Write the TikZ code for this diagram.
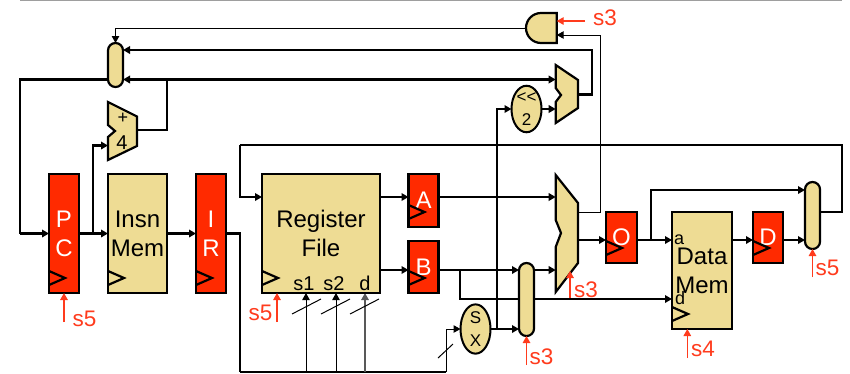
\documentclass[tikz,border=0pt]{standalone}
\usepackage{fontspec}
\setmainfont{Liberation Sans}
\usetikzlibrary{positioning,arrows.meta,shapes.geometric,backgrounds}
\definecolor{tan}{HTML}{EEDC94}
\definecolor{regred}{HTML}{FF2A00}
\definecolor{ctlred}{HTML}{FF3B1D}

\begin{document}
\begin{tikzpicture}[
  x=1pt,y=-1pt,
  >={Triangle[length=7pt,width=7.5pt]},
  reg/.style={rectangle,draw=black,fill=regred,line width=2.2pt,text=white,align=center,
              inner sep=0pt,outer sep=0pt,minimum width=30pt,font=\fontsize{24}{29}\selectfont},
  comb/.style={rectangle,draw=black,fill=tan,line width=2.2pt,align=center,
               inner sep=0pt,outer sep=0pt,font=\fontsize{24}{29}\selectfont},
  pill/.style={rectangle,rounded corners=7.4pt,draw=black,fill=tan,line width=2.2pt,
               inner sep=0pt,outer sep=0pt,minimum width=15pt},
  oval/.style={ellipse,draw=black,fill=tan,line width=2pt,align=center,inner sep=0pt,outer sep=0pt,
               minimum width=30pt,minimum height=46pt,font=\fontsize{17}{23}\selectfont},
  mux/.style={draw=black,fill=tan,line width=2.2pt,line join=miter},
  clk/.style={draw=black,line width=2.2pt},
  wire/.style={line width=2.2pt,black},
  thinwire/.style={line width=1pt,black},
  ctl/.style={->,line width=1.3pt,ctlred},
  ctllab/.style={text=ctlred,inner sep=0pt,font=\fontsize{22.5}{24}\selectfont},
  port/.style={inner sep=0pt,font=\fontsize{20}{22}\selectfont}
]
\useasboundingbox (0,0) rectangle (850,373);
\draw[black!38,line width=1.2pt] (20,0.5) -- (842,0.5);

% ---- registers and big blocks ----
\node[reg,minimum height=119pt] (pc) at (64,233.5) {P\\C};
\node[comb,minimum width=59pt,minimum height=119pt] (imem) at (137.5,233.5) {Insn\\Mem};
\node[reg,minimum height=119pt] (ir) at (211,233.5) {I\\R};
\node[comb,minimum width=118pt,minimum height=119pt] (rf) at (321,233.5) {Register\\File};
\node[reg,minimum height=53pt] (rega) at (423.5,200.5) {A};
\node[reg,minimum height=52pt] (regb) at (423.5,267) {B};
\node[reg,minimum width=31pt,minimum height=51pt] (rego) at (621.5,237.5) {O};
\node[comb,minimum width=60pt,minimum height=117pt] (dmem) at (702,270.5) {Data\\Mem};
\node[reg,minimum height=51pt] (regd) at (768,237.5) {D};

% ---- pills and ovals ----
\node[pill,minimum height=44pt] (pcmux) at (115.5,65) {};
\node[pill,minimum height=73pt] (bmux) at (526.5,299.5) {};
\node[pill,minimum height=67pt] (wbmux) at (812.5,215.5) {};
\node[oval] (sx) at (475.5,329) {S\\X};
\node[oval] (sltwo) at (526.5,109) {{<}{<}\\2};

% ---- adder and muxes ----
\draw[mux] (108,102) -- (137,116.5) -- (137,146) -- (108,160) -- (108,137) -- (115,131) -- (108,125) -- cycle;
\node[font=\fontsize{18}{20}\selectfont,inner sep=0pt] (addplus) at (123,118) {+};
\node[font=\fontsize{20}{20}\selectfont,inner sep=0pt] (addfour) at (122,143) {4};
\draw[mux] (555.7,65) -- (578,80) -- (578,108) -- (555.7,123) -- (555.7,102) -- (561,95) -- (555.7,88) -- cycle;
\draw[mux] (555.7,175) -- (578,203) -- (578,263) -- (555.7,292) -- (555.7,247) -- (561,233) -- (555.7,220) -- cycle;
\draw[mux] (556.7,13) -- (541,13) arc[start angle=90,end angle=270,radius=15pt] -- (556.7,43) -- cycle;

% ---- clock marks ----
\foreach \r in {pc,imem,ir,rf,rega,regb,rego,dmem,regd}{
  \draw[clk] (\r.south west) ++(0,-8) -- ++(16,-7) -- ++(-16,-7);
}

% ---- port labels ----
\node[port] (sone) at (304,284) {s1};
\node[port] (stwo) at (334,284) {s2};
\node[port] (dst) at (365,283) {d};
\node[port,font=\fontsize{18}{20}\selectfont] (dma) at (679,240) {a};
\node[port,font=\fontsize{18}{20}\selectfont] (dmd) at (680,298) {d};

% ---- free ends ----
\coordinate (ya) at (0,197);
\coordinate (yb) at (0,270);
\coordinate (yd) at (0,299);
\coordinate (yo) at (0,240);
\coordinate (yw) at (0,190);
\coordinate (andout) at (525.7,28);
\coordinate (andin) at (556.7,35);
\coordinate (brout) at (578,94.5);
\coordinate (brup) at (592,50);
\coordinate (pcb) at (123,50);
\coordinate (pcc) at (123,79.5);
\coordinate (pcout) at (108,79.5);
\coordinate (pcl) at (20,233.5);
\coordinate (bra) at (555.7,79.5);
\coordinate (brb) at (555.7,109);
\coordinate (addout) at (137,130);
\coordinate (addj) at (167,79.5);
\coordinate (addin) at (108,145.5);
\coordinate (pcj) at (93,233.5);
\coordinate (irj) at (240,233.5);
\coordinate (irb) at (240,372);
\coordinate (sxb) at (446,372);
\coordinate (sxl) at (446,329);
\coordinate (sa) at (306,372);
\coordinate (sb) at (336,372);
\coordinate (sc) at (365,372);
\coordinate (wbout) at (820,212);
\coordinate (wbr) at (842,145);
\coordinate (wbl) at (240,145);
\coordinate (rfin) at (262,197);
\coordinate (alua) at (555.7,197);
\coordinate (alub) at (555.7,270);
\coordinate (aluo) at (578,240);
\coordinate (aluz) at (578,212);
\coordinate (aluy) at (600,35);
\coordinate (bj) at (460,270);
\coordinate (sj) at (497,329);
\coordinate (oj) at (651,240);

% ---- wires ----
\begin{scope}[on background layer]
  \draw[thinwire,->] (andout) -| (pcmux.north);
  \draw[wire,->] (brout) -| (brup) -- (pcb);
  \draw[wire,<->] (pcc) -- (bra);
  \draw[wire] (addout) -| (addj);
  \draw[wire] (pcout) -| (pcl);
  \draw[wire,->] (pcl) -- (pc.west);
  \draw[wire,->] (pc.east) -- (imem.west);
  \draw[wire,->] (pcj) |- (addin);
  \draw[wire,->] (imem.east) -- (ir.west);
  \draw[wire] (ir.east) -- (irj) -- (irb);
  \draw[line width=1.4pt] (irb) -- (sxb);
  \draw[thinwire,->] (sxb) -- (sxl) -- (sx.west);
  \draw[thinwire,->] (sa) -- (sa |- rf.south);
  \draw[thinwire,->] (sb) -- (sb |- rf.south);
  \draw[line width=1.5pt,black!65,->] (sc) -- (sc |- rf.south);
  \draw[wire] (wbout) -| (wbr) -- (wbl);
  \draw[wire,->] (wbl) |- (rfin);
  \draw[wire,->] (rf.east |- ya) -- (rega.west |- ya);
  \draw[wire,->] (rf.east |- yb) -- (regb.west |- yb);
  \draw[wire,->] (rega.east |- ya) -- (alua);
  \draw[wire,->] (regb.east |- yb) -- (bmux.west |- yb);
  \draw[wire,->] (bmux.east |- yb) -- (alub);
  \draw[wire,->] (bj) |- (dmem.west |- yd);
  \draw[wire,->] (sj) |- (sltwo.west);
  \draw[wire,->] (sltwo.east) -- (brb);
  \draw[wire,->] (sx.east) -- (bmux.west |- sx.east);
  \draw[wire,->] (aluo) -- (rego.west |- yo);
  \draw[wire,->] (rego.east |- yo) -- (dmem.west |- yo);
  \draw[wire,->] (oj) |- (wbmux.west |- yw);
  \draw[wire,->] (dmem.east |- yo) -- (regd.west |- yo);
  \draw[wire,->] (regd.east |- yo) -- (wbmux.west |- yo);
  \draw[thinwire,->] (aluz) -| (aluy) -- (andin);
\end{scope}

% ---- width slashes ----
\foreach \w in {292,321,350}{
  \draw[thinwire] (\w,314) -- ++(29,-15);
}
\draw[thinwire] (438,358) -- (453,344);

% ---- stage controls ----
\coordinate (cand) at (585,21);
\coordinate (candend) at (556.7,21);
\coordinate (cpc) at (64,322);
\coordinate (crf) at (277,322);
\coordinate (calu) at (570,298);
\coordinate (caluend) at (570,271);
\coordinate (cb) at (526.5,365);
\coordinate (cdm) at (687.3,358);
\coordinate (cwb) at (812.5,277);
\draw[ctl] (cand) -- (candend);
\draw[ctl] (cpc) -- (pc.south);
\draw[ctl] (crf) -- (crf |- rf.south);
\draw[ctl] (calu) -- (caluend);
\draw[ctl] (cb) -- (bmux.south);
\draw[ctl] (cdm) -- (cdm |- dmem.south);
\draw[ctl] (cwb) -- (wbmux.south);
\node[ctllab] (labtop) at (605,17.5) {s3};
\node[ctllab] (labpc) at (84.5,318.5) {s5};
\node[ctllab] (labrf) at (260.5,313) {s5};
\node[ctllab] (labalu) at (586,290) {s3};
\node[ctllab] (labb) at (541.5,356.5) {s3};
\node[ctllab] (labdm) at (703,349) {s4};
\node[ctllab] (labwb) at (827.5,267.5) {s5};
\end{tikzpicture}
\end{document}
